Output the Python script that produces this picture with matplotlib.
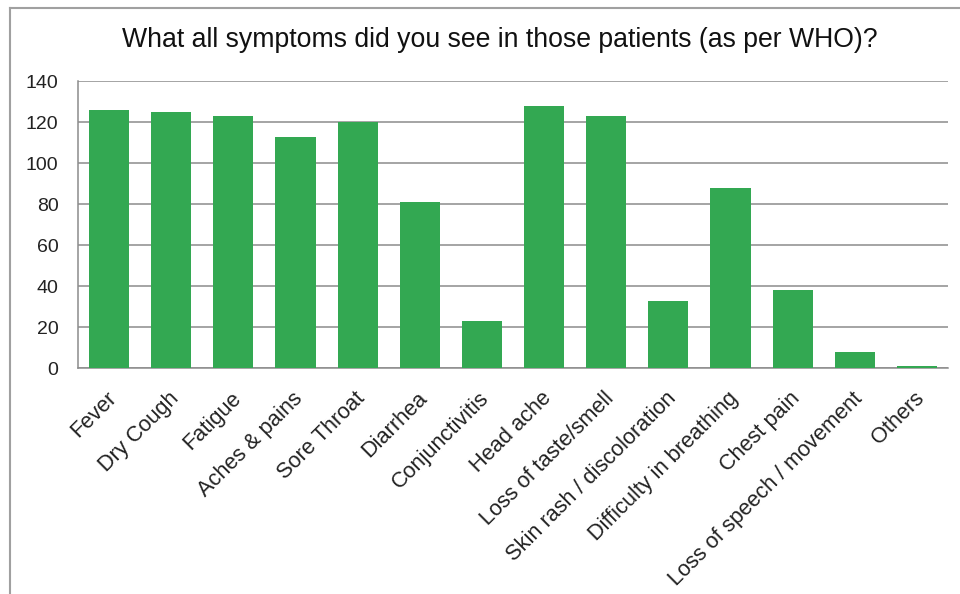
import matplotlib
matplotlib.use("Agg")
import matplotlib.pyplot as plt
from matplotlib.lines import Line2D
import matplotlib.transforms as mtransforms
import numpy as np

plt.rcParams['font.family'] = ['Liberation Sans', 'DejaVu Sans']

title = "What all symptoms did you see in those patients (as per WHO)?"
categories = ["Fever", "Dry Cough", "Fatigue", "Aches & pains", "Sore Throat",
              "Diarrhea", "Conjunctivitis", "Head ache", "Loss of taste/smell",
              "Skin rash / discoloration", "Difficulty in breathing",
              "Chest pain", "Loss of speech / movement", "Others"]
values = [126, 125, 123, 113, 120, 81, 23, 128, 123, 33, 88, 38, 8, 1]
yticks = [0, 20, 40, 60, 80, 100, 120, 140]

fig = plt.figure(figsize=(9.6, 5.94), dpi=100)
ax = fig.add_axes([0.08125, 0.380, 0.90625, 0.483])

x = np.arange(len(categories))
ax.bar(x, values, width=0.645, color='#33a852', zorder=3)
ax.set_xlim(-0.5, len(categories) - 0.5)
ax.set_ylim(0, 140)
ax.set_yticks(yticks)
ax.set_yticklabels([str(v) for v in yticks], fontsize=14, color='#222222')
ax.yaxis.grid(True, color='#8c8c8c', linewidth=1.1, zorder=0)
ax.tick_params(axis='y', length=0, pad=14)
ax.tick_params(axis='x', length=0, pad=4)
ax.set_xticks(x)
ax.set_xticklabels(categories, rotation=45, ha='right', va='top',
                   rotation_mode='anchor', fontsize=15.7, color='#222222')
for lbl in ax.get_xticklabels():
    lbl.set_transform(lbl.get_transform() + mtransforms.ScaledTranslation(-3/100, -14/100, fig.dpi_scale_trans))

for s in ['top', 'right']:
    ax.spines[s].set_visible(False)
for s in ['left', 'bottom']:
    ax.spines[s].set_color('#8c8c8c')
    ax.spines[s].set_linewidth(1.1)

fig.text(0.521, 0.933, title, ha='center', va='center', fontsize=19.2, color='#111111')

# outer chart border
fig.add_artist(Line2D([10/960, 10/960], [0, 1 - 8/594], color='#a0a0a0', linewidth=1.5, transform=fig.transFigure))
fig.add_artist(Line2D([10/960, 1], [1 - 8/594, 1 - 8/594], color='#a0a0a0', linewidth=1.5, transform=fig.transFigure))

fig.savefig("out.png", dpi=100, facecolor='white')
